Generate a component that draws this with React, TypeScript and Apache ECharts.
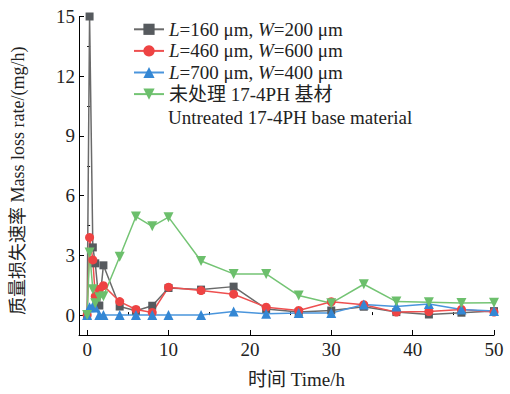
import React, { useEffect, useRef } from "react";
import * as echarts from "echarts";

const times = [0, 0.3, 0.7, 1, 1.5, 2, 4, 6, 8, 10, 14, 18, 22, 26, 30, 34, 38, 42, 46, 50];
const s160 = [0, 15, 3.4, 2.6, 0.48, 2.5, 0.43, 0.22, 0.47, 1.36, 1.28, 1.43, 0.31, 0.15, 0.23, 0.42, 0.15, 0.03, 0.12, 0.2];
const s460 = [0, 3.9, 2.77, 0.95, 1.3, 1.48, 0.68, 0.28, 0.13, 1.4, 1.23, 1.05, 0.4, 0.23, 0.67, 0.52, 0.15, 0.18, 0.28, 0.15];
const s700 = [0, 0.4, 0.45, 0.38, 0, 0, 0, 0, 0, 0, 0, 0.18, 0.07, 0.1, 0.1, 0.53, 0.43, 0.56, 0.28, 0.2];
const sBase = [0, 3.15, 1.3, 0.6, 0.9, 0.95, 2.93, 4.95, 4.46, 4.92, 2.72, 2.07, 2.07, 0.98, 0.6, 1.55, 0.68, 0.65, 0.61, 0.62];

const seriesNames = [
  "L=160 μm, W=200 μm",
  "L=460 μm, W=600 μm",
  "L=700 μm, W=400 μm",
  "未处理 17-4PH 基材",
];
const legendLabels = [
  "{i|L}=160 μm, {i|W}=200 μm",
  "{i|L}=460 μm, {i|W}=600 μm",
  "{i|L}=700 μm, {i|W}=400 μm",
  "未处理 17-4PH 基材",
];
const legendSecondLine = "Untreated 17-4PH base material";
const xMajor = [0, 10, 20, 30, 40, 50];
const xMinor = [5, 15, 25, 35, 45];
const yMajor = [0, 3, 6, 9, 12, 15];
const yMinor = [1.5, 4.5, 7.5, 10.5, 13.5];

const FONT = '"Liberation Serif", "Noto Sans CJK SC", serif';
const TXT = "#222";

export default function App() {
  const ref = useRef<HTMLDivElement>(null);
  useEffect(() => {
    if (!ref.current) return;
    const chart = echarts.init(ref.current, null, { renderer: "svg" });
    const mk = (i: number, data: number[], color: string, lineColor: string, symbol: string, size: number, rotate = 0) => ({
      name: seriesNames[i],
      type: "line",
      data: times.map((t, k) => [t, data[k]]),
      symbol,
      symbolSize: size,
      symbolRotate: rotate,
      lineStyle: { color: lineColor, width: 1.5 },
      itemStyle: { color, opacity: 1 },
      xAxisIndex: 0,
      yAxisIndex: 0,
    });
    const axisCommon = {
      axisLine: { show: true, onZero: false, lineStyle: { color: "#000", width: 1 } },
      splitLine: { show: false },
    };
    chart.setOption({
      animation: false,
      grid: { left: 79, right: 16, top: 16.5, bottom: 55.5, containLabel: false },
      legend: {
        orient: "vertical",
        left: 133,
        top: 18.5,
        padding: 0,
        itemGap: 0,
        itemWidth: 30,
        itemHeight: 14,
        data: seriesNames,
        formatter: (name: string) => legendLabels[seriesNames.indexOf(name)],
        textStyle: {
          fontFamily: FONT,
          fontSize: 19,
          color: TXT,
          lineHeight: 21.6,
          rich: {
            i: { fontStyle: "italic", fontFamily: FONT, fontSize: 19, color: TXT, lineHeight: 21.6 },
          },
        },
      },
      graphic: [
        {
          type: "text",
          left: 168,
          top: 108,
          style: { text: legendSecondLine, fontFamily: FONT, fontSize: 19, fill: TXT },
        },
      ],
      xAxis: [
        {
          type: "value",
          min: -1,
          max: 50,
          ...axisCommon,
          name: "时间 Time/h",
          nameLocation: "middle",
          nameGap: 35,
          nameTextStyle: { fontFamily: FONT, fontSize: 19, color: TXT, padding: [0, 0, 0, 20] },
          axisTick: { show: true, inside: true, length: 5, customValues: xMajor, lineStyle: { color: "#000" } },
          axisLabel: { show: true, customValues: xMajor, margin: 5, fontFamily: FONT, fontSize: 19, color: TXT },
        },
        {
          type: "value",
          min: -1,
          max: 50,
          position: "bottom",
          axisLine: { show: false },
          splitLine: { show: false },
          axisTick: { show: true, inside: true, length: 3, customValues: xMinor, lineStyle: { color: "#000" } },
          axisLabel: { show: false },
        },
      ],
      yAxis: [
        {
          type: "value",
          min: -1,
          max: 15,
          ...axisCommon,
          name: "质量损失速率 Mass loss rate/(mg/h)",
          nameLocation: "middle",
          nameGap: 52,
          nameTextStyle: { fontFamily: FONT, fontSize: 18, color: TXT, padding: [0, 10, 0, 0] },
          axisTick: { show: true, inside: true, length: 5, customValues: yMajor, lineStyle: { color: "#000" } },
          axisLabel: { show: true, customValues: yMajor, margin: 4, fontFamily: FONT, fontSize: 19, color: TXT },
        },
        {
          type: "value",
          min: -1,
          max: 15,
          position: "left",
          axisLine: { show: false },
          splitLine: { show: false },
          axisTick: { show: true, inside: true, length: 3, customValues: yMinor, lineStyle: { color: "#000" } },
          axisLabel: { show: false },
        },
      ],
      series: [
        mk(0, s160, "#565a5e", "#6a6a6a", "rect", 8),
        mk(1, s460, "#ee4343", "#ee5050", "circle", 9),
        mk(2, s700, "#3487d4", "#4a95dc", "triangle", 10),
        mk(3, sBase, "#6cbf6c", "#74c474", "triangle", 10, 180),
      ],
    });
    return () => chart.dispose();
  }, []);
  return <div ref={ref} style={{ width: 510, height: 394, position: "absolute", left: 0, top: 0 }} />;
}
